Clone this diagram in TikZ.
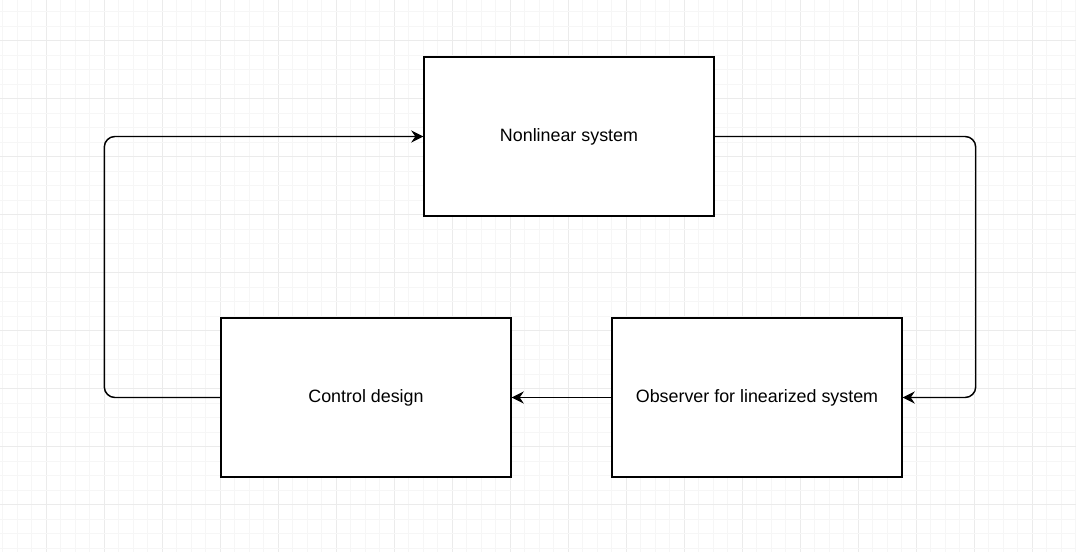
\documentclass[tikz,border=0pt]{standalone}
\usepackage{fontspec}
\setmainfont{Liberation Sans}
\usepackage{tikz}
\usetikzlibrary{arrows.meta, positioning, calc}
\definecolor{gridminor}{RGB}{246,246,246}
\definecolor{gridmajor}{RGB}{235,235,235}

\begin{document}
\begin{tikzpicture}[
        x=0.75pt, y=-0.75pt,
        >={Stealth[length=9pt, width=9pt, inset=3pt]},
        box/.style={draw, line width=1.1pt, fill=white, minimum width=217.5pt, minimum height=119.25pt, font=\fontsize{13.4}{16}\selectfont, align=center},
        flow/.style={->, line width=1.1pt, rounded corners=8pt}
    ]
        \useasboundingbox (0,0) rectangle (1076,552);
        \fill[white] (0,0) rectangle (1076,552);

        % Background grid
        \foreach \k in {0,...,74} {
            \pgfmathtruncatemacro{\m}{mod(\k,4)}
            \ifnum\m=3 \def\gc{gridmajor}\else\def\gc{gridminor}\fi
            \draw[\gc, line width=0.75pt] (2.5+14.5*\k,0) -- (2.5+14.5*\k,552);
        }
        \foreach \k in {0,...,37} {
            \pgfmathtruncatemacro{\m}{mod(\k,4)}
            \ifnum\m=2 \def\gc{gridmajor}\else\def\gc{gridminor}\fi
            \draw[\gc, line width=0.75pt] (0,11.7+14.5*\k) -- (1076,11.7+14.5*\k);
        }

        % The three blocks
        \node[box] (plant) at (569,136.5) {Nonlinear system};
        \node[box] (ctrl) at (366,397.5) {Control design};
        \node[box] (obs) at (757,397.5) {Observer for linearized system};

        % Feedback loop
        \draw[flow] (plant.east) -- ++(261,0) |- (obs.east);
        \draw[flow] (obs.west) -- (ctrl.east);
        \draw[flow] (ctrl.west) -- ++(-116,0) |- (plant.west);

    \end{tikzpicture}
\end{document}
